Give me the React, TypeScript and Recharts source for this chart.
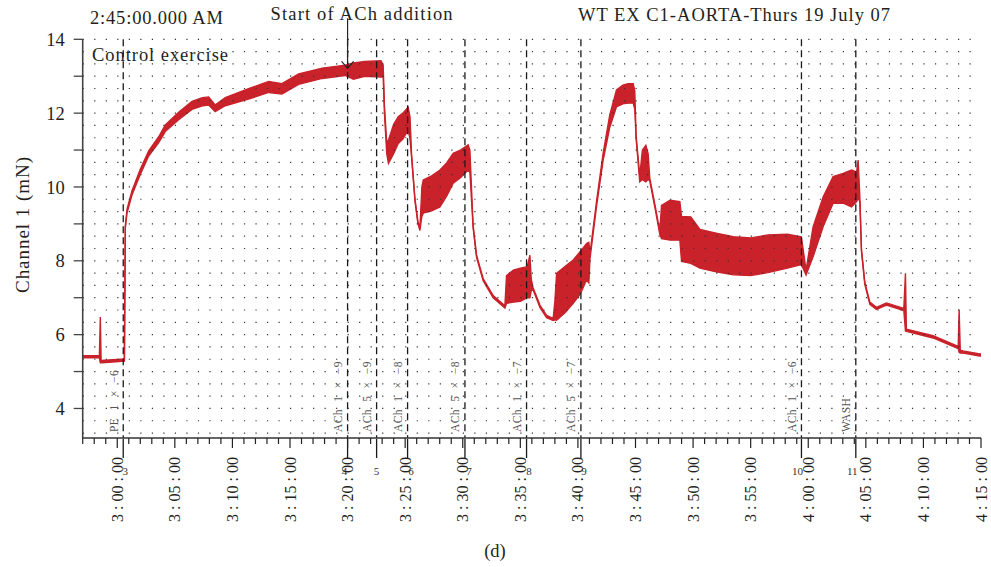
import React from 'react';
import { AreaChart, Area, XAxis, YAxis, ReferenceLine } from 'recharts';

// Trace samples: minutes after 2:57:00, lower / upper edge of the recorded band (mN)
const traceMinutes = [
  0.0, 1.45, 1.53, 1.6, 2.6, 3.62, 3.7, 3.85, 4.28, 5.0, 5.73, 6.6, 7.17, 8.33, 9.49, 10.4, 10.94, 11.5,
  12.38, 14.4, 16.15, 17.3, 18.75, 20.8, 22.8, 23.5, 24.5, 25.9, 26.09, 26.2, 26.4, 26.55, 27.0, 27.4,
  27.8, 28.26, 28.42, 28.56, 28.85, 29.1, 29.28, 29.45, 29.57, 30.3, 31.02, 31.6, 32.17, 32.8, 33.47,
  33.62, 33.9, 34.2, 34.77, 35.64, 36.66, 36.8, 37.4, 38.0, 38.6, 38.83, 38.95, 39.1, 39.7, 40.28, 40.85,
  41.0, 41.15, 41.9, 42.59, 43.2, 43.75, 43.95, 44.05, 44.62, 45.19, 45.77, 46.35, 46.9, 47.36, 47.8,
  47.94, 48.05, 48.37, 48.6, 48.9, 49.1, 49.24, 49.7, 50.11, 50.26, 51.0, 51.85, 52.0, 52.8, 53.6, 55.0,
  56.5, 58.0, 59.5, 61.2, 62.4, 62.81, 63.42, 64.29, 65.16, 66.03, 66.76, 67.2, 67.33, 67.48, 67.62,
  67.91, 68.35, 68.92, 69.79, 71.3, 71.44, 71.52, 73.84, 75.87, 76.02, 76.1, 76.2, 76.44, 77.89, 78.0,
];
const traceLow = [
  5.37, 5.37, 5.24, 5.24, 5.26, 5.28, 8.88, 9.3, 9.78, 10.34, 10.84, 11.2, 11.5, 11.82, 12.1, 12.2, 12.22, 12.04,
  12.2, 12.38, 12.56, 12.52, 12.78, 12.94, 13.02, 12.92, 13.0, 12.98, 13.0, 12.0, 10.9, 10.64, 10.9, 11.18,
  11.3, 11.54, 11.3, 10.8, 9.62, 9.02, 8.82, 9.2, 9.29, 9.35, 9.46, 9.75, 10.1, 10.25, 10.46,
  10.4, 8.9, 8.09, 7.46, 7.0, 6.72, 6.85, 6.88, 6.9, 7.0, 7.0, 7.2, 7.22, 6.74, 6.46, 6.38,
  6.4, 6.39, 6.6, 6.85, 7.1, 7.48, 7.4, 8.06, 9.48, 10.72, 11.62, 12.17, 12.25, 12.27, 12.27,
  12.1, 11.32, 10.14, 10.2, 10.14, 10.2, 10.16, 9.42, 8.72, 8.6, 8.56, 8.56, 7.98, 7.93, 7.8, 7.7,
  7.62, 7.6, 7.68, 7.8, 7.9, 7.62, 8.11, 8.92, 9.56, 9.56, 9.46, 9.6, 9.7, 9.6, 8.26,
  7.36, 6.82, 6.68, 6.8, 6.65, 6.1, 6.09, 5.91, 5.64, 5.62, 5.52, 5.5, 5.5, 5.42, 5.42,
];
const traceHigh = [
  5.43, 5.43, 6.48, 5.3, 5.32, 5.34, 8.95, 9.4, 9.9, 10.48, 10.98, 11.36, 11.68, 12.02, 12.32, 12.42, 12.44, 12.22,
  12.42, 12.66, 12.86, 12.8, 13.06, 13.22, 13.3, 13.36, 13.4, 13.42, 13.3, 12.2, 11.2, 11.27, 11.7, 11.9,
  12.0, 12.16, 11.9, 10.86, 9.68, 9.08, 8.88, 10.0, 10.19, 10.3, 10.46, 10.65, 10.91, 11.0, 11.14,
  11.0, 8.96, 8.15, 7.52, 7.06, 6.78, 7.6, 7.75, 7.8, 7.84, 8.15, 7.5, 7.28, 6.8, 6.52, 6.44,
  6.9, 7.66, 7.85, 8.02, 8.25, 8.47, 8.5, 8.2, 9.62, 10.92, 11.96, 12.63, 12.76, 12.8, 12.8,
  12.6, 11.4, 10.3, 11.0, 11.13, 10.9, 10.24, 9.5, 8.8, 9.5, 9.64, 9.6, 9.2, 9.19, 8.85, 8.75,
  8.65, 8.62, 8.7, 8.72, 8.65, 7.75, 8.92, 9.73, 10.28, 10.37, 10.46, 10.4, 10.73, 9.75, 8.32,
  7.42, 6.88, 6.74, 6.86, 6.71, 7.66, 6.15, 5.97, 5.7, 5.68, 6.68, 5.58, 5.56, 5.48, 5.48,
];

// Axis ticks
const xTickMinutes = [3, 8, 13, 18, 23, 28, 33, 38, 43, 48, 53, 58, 63, 68, 73, 78];
const xTickLabels = [
  '3 : 00 : 00', '3 : 05 : 00', '3 : 10 : 00', '3 : 15 : 00', '3 : 20 : 00', '3 : 25 : 00',
  '3 : 30 : 00', '3 : 35 : 00', '3 : 40 : 00', '3 : 45 : 00', '3 : 50 : 00', '3 : 55 : 00',
  '4 : 00 : 00', '4 : 05 : 00', '4 : 10 : 00', '4 : 15 : 00',
];
const yTicks = [4, 5, 6, 7, 8, 9, 10, 11, 12, 13, 14];

// Event markers
const eventMinutes = [3.52, 23.0, 25.52, 28.21, 33.19, 38.54, 43.26, 62.41, 67.13];
const eventNumbers = ['3', '4', '5', '6', '7', '8', '9', '10', '11'];
const eventLabels = [
  'PE 1 × −6', 'ACh 1 × −9', 'ACh 5 × −9', 'ACh 1 × −8', 'ACh 5 × −8',
  'ACh 1 × −7', 'ACh 5 × −7', 'ACh 1 × −6', 'WASH',
];
const additionStartMinute = 23.0;

const rows = traceMinutes.map((m, i) => ({ m, band: [traceLow[i], traceHigh[i]] }));
const minorTicks = Array.from({ length: 79 }, (_, i) => i);
const gridRows = Array.from({ length: 33 }, (_, k) => 14 - k / 3);
const eventNumberDx = [2, -3, 0, 3.5, 4, 2.5, 3, -4, -3.5];

const FONT = '"Liberation Serif", "DejaVu Serif", serif';
const RED = '#C9222B';
const INK = '#231f20';
const PLOT_W = 991 - 10 - 82.7;
const MIN_PX = PLOT_W / 78;

const XTick = (props: any) => {
  const { x, y, payload } = props;
  const idx = xTickMinutes.indexOf(payload.value);
  const major = idx >= 0;
  const ty = y + 19;
  return (
    <g>
      <line x1={x} x2={x} y1={y} y2={y + (major ? 10 : 6)} stroke="#222" strokeWidth={1.2} />
      {major && (
        <text
          x={x}
          y={ty}
          transform={`rotate(-90 ${x} ${ty})`}
          textAnchor="end"
          dominantBaseline="central"
          fontSize={16}
          fontFamily={FONT}
          fill={INK}
        >
          {xTickLabels[idx]}
        </text>
      )}
    </g>
  );
};

const makeEventShape = (i: number) => (p: any) => {
  const x = p.x1;
  const top = Math.min(p.y1, p.y2);
  const bottom = Math.max(p.y1, p.y2);
  const lx = x - 9.5;
  const ly = bottom - 6;
  return (
    <g>
      <line x1={x} x2={x} y1={top} y2={bottom} stroke="#1a1a1a" strokeWidth={1.3} strokeDasharray="7 4" />
      <line x1={x} x2={x} y1={bottom + 1} y2={bottom + 20} stroke="#1a1a1a" strokeWidth={1.3} />
      <text x={x + eventNumberDx[i]} y={bottom + 37} textAnchor="middle" fontSize={11} fontFamily={FONT} fill="#333">
        {eventNumbers[i]}
      </text>
      <text
        x={lx}
        y={ly}
        transform={`rotate(-90 ${lx} ${ly})`}
        textAnchor="start"
        dominantBaseline="central"
        fontSize={11.5}
        fontFamily={FONT}
        fill="#555"
        letterSpacing={0.4}
        wordSpacing={4}
      >
        {eventLabels[i]}
      </text>
    </g>
  );
};

const ArrowShape = (p: any) => {
  const x = p.x1;
  const top = Math.min(p.y1, p.y2);
  return (
    <g>
      <text
        x={x - 77}
        y={top - 19}
        fontSize={18.5}
        fontFamily={FONT}
        fill={INK}
        textLength={182}
        lengthAdjust="spacing"
      >
        Start of ACh addition
      </text>
      <line x1={x} x2={x} y1={top - 21} y2={top + 29} stroke="#222" strokeWidth={1.2} />
      <polyline
        points={`${x - 6},${top + 22} ${x},${top + 29} ${x + 6},${top + 22}`}
        fill="none"
        stroke="#222"
        strokeWidth={1.2}
      />
    </g>
  );
};

export default function App() {
  return (
    <div style={{ position: 'absolute', left: 0, top: 0, width: 991, height: 567, background: '#fff' }}>
      <AreaChart
        width={991}
        height={567}
        data={rows}
        margin={{ top: 39.3, right: 10, bottom: 49, left: 0 }}
      >
        <XAxis
          dataKey="m"
          type="number"
          domain={[0, 78]}
          ticks={minorTicks}
          interval={0}
          allowDataOverflow
          height={80}
          tickLine={false}
          tickSize={0}
          tickMargin={0}
          tick={<XTick />}
          axisLine={{ stroke: '#333', strokeWidth: 1.5 }}
        />
        <YAxis
          type="number"
          domain={[3.2, 14]}
          ticks={yTicks}
          interval={0}
          allowDataOverflow
          width={82.7}
          tickSize={9}
          tickMargin={9}
          tickFormatter={(v: number) => (v % 2 === 0 ? String(v) : '')}
          tick={{ fontSize: 18.5, fontFamily: FONT, fill: INK }}
          tickLine={{ stroke: '#444', strokeWidth: 1.3 }}
          axisLine={{ stroke: '#444', strokeWidth: 1.6 }}
        />
        {gridRows.map((v) => (
          <ReferenceLine
            key={`g${v}`}
            y={v}
            stroke="#333"
            strokeWidth={1.2}
            strokeDasharray={`1.2 ${(MIN_PX - 1.2).toFixed(3)}`}
          />
        ))}
        <Area
          type="linear"
          dataKey="band"
          stroke={RED}
          strokeWidth={1.4}
          fill={RED}
          fillOpacity={1}
          dot={false}
          activeDot={false}
          isAnimationActive={false}
        />
        {eventMinutes.map((t, i) => (
          <ReferenceLine key={`e${i}`} x={t} shape={makeEventShape(i)} />
        ))}
        <ReferenceLine x={additionStartMinute} shape={ArrowShape} />
      </AreaChart>
      <svg
        width={991}
        height={567}
        style={{ position: 'absolute', left: 0, top: 0, pointerEvents: 'none' }}
      >
        <text x={90} y={24} fontSize={18.5} fontFamily={FONT} fill={INK} textLength={133} lengthAdjust="spacing">
          2:45:00.000 AM
        </text>
        <text x={578} y={21} fontSize={18.5} fontFamily={FONT} fill={INK} textLength={312} lengthAdjust="spacing">
          WT EX C1-AORTA-Thurs 19 July 07
        </text>
        <text x={92} y={61} fontSize={18.5} fontFamily={FONT} fill={INK} textLength={136} lengthAdjust="spacing">
          Control exercise
        </text>
        <text
          x={22}
          y={225}
          transform="rotate(-90 22 225)"
          textAnchor="middle"
          dominantBaseline="central"
          fontSize={19}
          fontFamily={FONT}
          fill={INK}
          textLength={136}
          lengthAdjust="spacing"
        >
          Channel 1 (mN)
        </text>
        <text x={495} y={557} textAnchor="middle" fontSize={18.5} fontFamily={FONT} fill={INK}>(d)</text>
      </svg>
    </div>
  );
}
